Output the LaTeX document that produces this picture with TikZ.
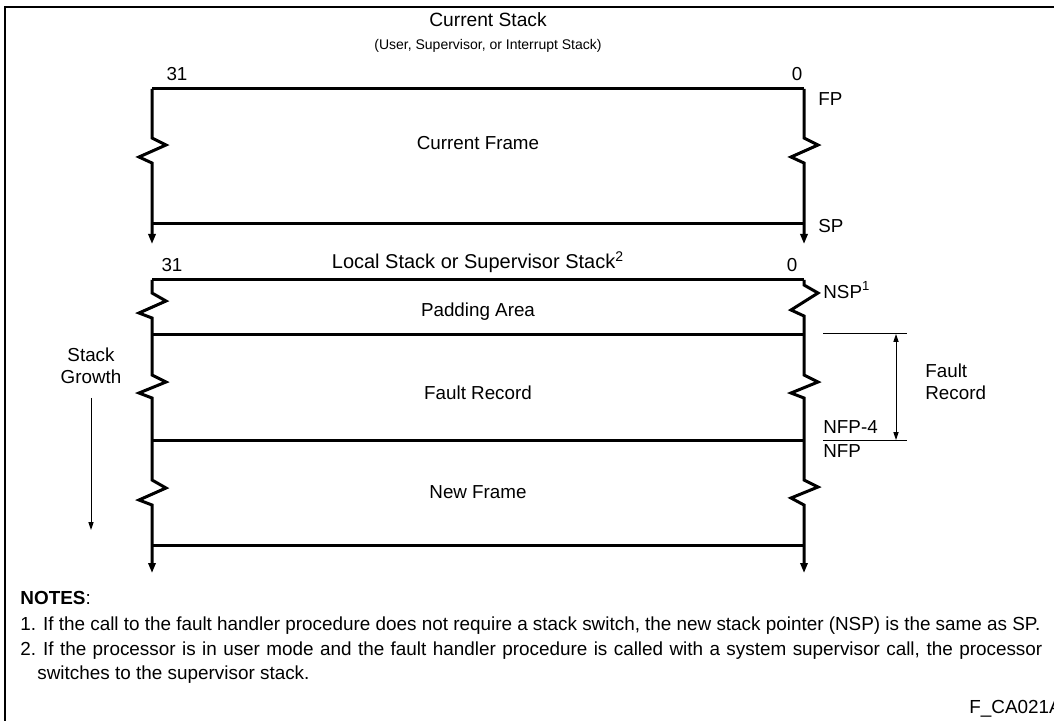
\documentclass[tikz,border=0pt]{standalone}
\usepackage{fontspec}
\setmainfont{Liberation Sans}
\usetikzlibrary{arrows.meta}
\begin{document}
\begin{tikzpicture}[x=0.5pt,y=-0.5pt,
  wall/.style={line width=1.5pt,line join=miter},
  down/.style={wall,-{Triangle[length=5pt,width=3.6pt]}},
  rule/.style={line width=1.5pt},
  thin/.style={line width=0.5pt},
  lbl/.style={inner sep=0pt,font=\fontsize{9.4}{11}\selectfont},
  bit/.style={inner sep=0pt,font=\fontsize{9.4}{11}\selectfont},
  note/.style={inner sep=0pt,anchor=west,font=\fontsize{9.45}{11}\selectfont},
  tip/.style={-{Triangle[length=4pt,width=2.6pt]}},
]
\useasboundingbox (0,0) rectangle (1054,721);
% outer frame (left and top edges)
\draw[line width=1pt] (5,730) -- (5,7) -- (1060,7);

% ---------- current stack ----------
\node[inner sep=0pt,font=\fontsize{9.6}{11}\selectfont] (t1) at (488,20) {Current Stack};
\node[inner sep=0pt,font=\fontsize{7}{8}\selectfont] (t1s) at (488,46) {(User, Supervisor, or Interrupt Stack)};
\node[bit] (b31a) at (177,74) {31};
\node[bit] (b0a) at (797,74) {0};
\coordinate (aTL) at (152,89);
\coordinate (aTR) at (804,89);
\coordinate (aBL) at (152,224);
\coordinate (aBR) at (804,224);
\draw[rule] (aTL) -- (aTR);
\draw[rule] (aBL) -- (aBR);
\draw[down] (aTL) -- (152,138) -- ++(14,7) -- ++(-27,12) -- ++(13,6) -- (152,244);
\draw[down] (aTR) -- (804,138) -- ++(14,7) -- ++(-27,12) -- ++(13,6) -- (804,244);
\node[lbl] (curf) at (478,143) {Current Frame};
\node[lbl,anchor=west] (fp) at (818,99) {FP};
\node[lbl,anchor=west] (sp) at (818,226) {SP};

% ---------- local / supervisor stack ----------
\node[inner sep=0pt,font=\fontsize{10}{12}\selectfont] (t2) at (478,262) {Local Stack or Supervisor Stack\textsuperscript{2}};
\node[bit] (b31b) at (172,265) {31};
\node[bit] (b0b) at (792,265) {0};
\coordinate (bL0) at (152,280);
\coordinate (bR0) at (804,280);
\coordinate (bL1) at (152,335);
\coordinate (bR1) at (804,335);
\coordinate (bL2) at (152,440);
\coordinate (bR2) at (804,440);
\coordinate (bL3) at (152,545);
\coordinate (bR3) at (804,545);
\draw[rule] (bL0) -- (bR0);
\draw[rule] (bL1) -- (bR1);
\draw[rule] (bL2) -- (bR2);
\draw[rule] (bL3) -- (bR3);
\draw[down] (bL0) -- (152,293) -- ++(14,8) -- ++(-27,12) -- ++(13,5)
  -- (152,375) -- ++(14,7) -- ++(-27,11) -- ++(13,5)
  -- (152,480) -- ++(14,8) -- ++(-27,12) -- ++(13,5) -- (152,573);
\draw[down] (bR0) -- (804,285) -- ++(14,8) -- ++(-27,17) -- ++(13,6)
  -- (804,375) -- ++(14,7) -- ++(-27,11) -- ++(13,5)
  -- (804,480) -- ++(14,7) -- ++(-27,11) -- ++(13,7) -- (804,573);
\node[lbl] (pad) at (478,312) {Padding Area};
\node[lbl] (frec) at (478,393) {Fault Record};
\node[lbl] (nfr) at (478,492) {New Frame};
\node[lbl,anchor=west] (nsp) at (823,290) {NSP\textsuperscript{1}};

% fault record extent on the right
\coordinate (m1a) at (823,334);
\coordinate (m1b) at (907,334);
\coordinate (m2a) at (823,440);
\coordinate (m2b) at (907,440);
\draw[thin] (m1a) -- (m1b);
\draw[thin] (m2a) -- (m2b);
\coordinate (dtop) at (896,334);
\coordinate (dbot) at (896,440);
\draw[thin,{Triangle[length=4pt,width=2.6pt]}-{Triangle[length=4pt,width=2.6pt]}] (dtop) -- (dbot);
\node[lbl,anchor=west,align=left] (frl) at (925,382) {Fault\\Record};
\node[lbl,anchor=south west] (nfp4) at (823,434) {NFP-4};
\node[lbl,anchor=north west] (nfp) at (823,444) {NFP};

% growth direction
\node[lbl,align=center] (grow) at (91,366) {Stack\\Growth};
\coordinate (g0) at (91,398);
\coordinate (g1) at (91,530);
\draw[thin,tip] (g0) -- (g1);

% ---------- notes ----------
\node[note] (notes) at (20,598) {\textbf{NOTES}:};
\node[note] (n1) at (20,626) {\makebox[510pt][s]{\mbox{1. If} the call to the fault handler procedure does not require a stack switch, the new stack pointer (NSP) is the same as SP.}};
\node[note] (n2) at (20,651) {\makebox[511pt][s]{\mbox{2. If} the processor is in user mode and the fault handler procedure is called with a system supervisor call, the processor}};
\node[note] (n2b) at (37,675) {switches to the supervisor stack.};
\node[note] (fig) at (969,709) {F\_CA021A};
\end{tikzpicture}
\end{document}
